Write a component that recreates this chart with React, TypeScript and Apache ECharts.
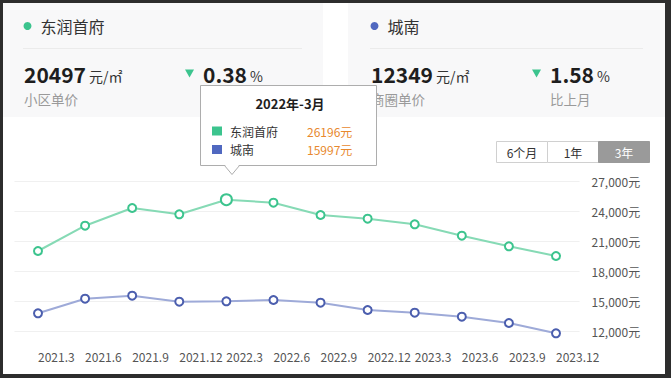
import React, { useEffect, useRef } from "react";
import * as echarts from "echarts";

const categories = ["2021.3", "2021.6", "2021.9", "2021.12", "2022.3", "2022.6", "2022.9", "2022.12", "2023.3", "2023.6", "2023.9", "2023.12"];
const seriesNames = ["东润首府", "城南"];
const greenValues = [20050, 22580, 24350, 23720, 25180, 24880, 23650, 23280, 22720, 21580, 20520, 19550];
const blueValues = [13820, 15280, 15580, 14980, 15020, 15150, 14880, 14150, 13880, 13480, 12850, 11820];
const highlightIndex = 4;
const tooltipTitle = "2022年-3月";
const tooltipValues = ["26196元", "15997元"];
const cardPrices = ["20497", "12349"];
const cardPriceLabels = ["小区单价", "商圈单价"];
const cardChanges = ["0.38", "1.58"];
const rangeButtons = ["6个月", "1年", "3年"];

const FONT = '"Noto Sans CJK SC", "Noto Sans", sans-serif';
const GREEN = "#3cc48e";
const GREEN_LINE = "#86dab5";
const BLUE = "#4b5eae";
const BLUE_LINE = "#9eaad8";
const BLUE_DOT = "#5068c0";

function txt(x: number, y: number, text: string, size: number, fill: string, extra: any = {}) {
  return {
    type: "text",
    x,
    y,
    z: 10,
    style: { text, fontSize: size, lineHeight: size, fill, fontFamily: FONT, verticalAlign: "middle", align: "left", ...extra },
  };
}

function card(x0: number, w: number, L: number, R: number, idx: number, dotColor: string): any[] {
  return [
    { type: "rect", x: x0, y: 3, z: 1, shape: { width: w, height: 114 }, style: { fill: "#f8f8f9" } },
    { type: "circle", z: 10, shape: { cx: L + 3.5, cy: 26, r: 4 }, style: { fill: dotColor } },
    txt(L + 16.5, 26, seriesNames[idx], 16, "#333"),
    { type: "line", z: 10, shape: { x1: L - 1, y1: 48.5, x2: R, y2: 48.5 }, style: { stroke: "#ebebeb", lineWidth: 1 } },
    txt(L, 73.5, cardPrices[idx], 21, "#1e1e1e", { fontWeight: "bold" }),
    txt(L + 65, 76, "元/㎡", 14, "#333"),
    txt(L, 99, cardPriceLabels[idx], 13.5, "#9a9a9a"),
    { type: "polygon", z: 10, shape: { points: [[L + 161, 69.5], [L + 170, 69.5], [L + 165.5, 77.5]] }, style: { fill: GREEN } },
    txt(L + 179, 73.5, cardChanges[idx], 21, "#1e1e1e", { fontWeight: "bold" }),
    txt(L + 226, 76, "%", 14, "#333"),
    txt(L + 179, 99, "比上月", 13.5, "#9a9a9a"),
  ];
}

export default function App() {
  const ref = useRef<HTMLDivElement>(null);
  useEffect(() => {
    document.body.style.margin = "0";
    document.body.style.overflow = "hidden";
    const chart = echarts.init(ref.current!, null, { renderer: "svg" });

    const bandW = (556 - 38) / 11;
    const gridLeft = 38 - bandW / 2;
    const gridRight = 671 - (556 + bandW / 2);

    const mk = (vals: number[], border: string, big: boolean) =>
      vals.map((v, i) =>
        i === highlightIndex && big
          ? { value: v, symbolSize: 11, itemStyle: { color: "#fff", borderColor: border, borderWidth: 2 } }
          : v
      );

    const tipX = 200.5;
    const tipY = 85.5;
    const tooltip: any[] = [
      { type: "rect", x: tipX, y: tipY, z: 50, shape: { width: 176, height: 80 }, style: { fill: "#fff", stroke: "#adadad", lineWidth: 1 } },
      { type: "polygon", z: 51, shape: { points: [[224.5, 164.5], [239.5, 164.5], [232, 173.5]] }, style: { fill: "#fff" } },
      { type: "polyline", z: 52, shape: { points: [[224.5, 165.5], [232, 174.5], [239.5, 165.5]] }, style: { stroke: "#adadad", lineWidth: 1, fill: null } },
      { ...txt(290, 103, tooltipTitle, 13, "#1e1e1e", { fontWeight: "bold", align: "center" }), z: 53 },
      { type: "rect", x: 212, y: 126.5, z: 53, shape: { width: 10, height: 9 }, style: { fill: GREEN } },
      { type: "rect", x: 212, y: 145, z: 53, shape: { width: 10, height: 9 }, style: { fill: BLUE_DOT } },
      { ...txt(230, 131, seriesNames[0], 12, "#333"), z: 53 },
      { ...txt(230, 149.5, seriesNames[1], 12, "#333"), z: 53 },
      { ...txt(307, 131, tooltipValues[0], 12, "#e8892e"), z: 53 },
      { ...txt(307, 149.5, tooltipValues[1], 12, "#e8892e"), z: 53 },
    ];

    const buttons: any[] = [];
    rangeButtons.forEach((b, i) => {
      const bx = 496.5 + i * 51;
      const active = i === rangeButtons.length - 1;
      buttons.push({
        type: "rect",
        x: bx,
        y: 141.5,
        z: 10,
        shape: { width: 51, height: 21 },
        style: { fill: active ? "#9a9a9a" : "#fff", stroke: active ? "#9a9a9a" : "#d0d0d0", lineWidth: 1 },
      });
      buttons.push(txt(bx + 25.5, 152, b, 12, active ? "#fff" : "#333", { align: "center" }));
    });

    chart.setOption({
      animation: false,
      backgroundColor: "#2d2d2d",
      grid: { left: gridLeft, right: gridRight, top: 181.5, bottom: 46.5 },
      xAxis: {
        type: "category",
        data: categories,
        boundaryGap: true,
        axisLine: { show: false },
        axisTick: { show: false },
        axisLabel: { interval: 0, align: "left", margin: 19, color: "#555", fontSize: 12, fontFamily: FONT },
      },
      yAxis: {
        type: "value",
        position: "right",
        min: 12000,
        max: 27000,
        interval: 3000,
        axisLine: { show: false },
        axisTick: { show: false },
        splitLine: { lineStyle: { color: "#f0f0f0" } },
        axisLabel: {
          margin: 12,
          color: "#555",
          fontSize: 12,
          fontFamily: FONT,
          formatter: (v: number) => v.toLocaleString("en-US") + "元",
        },
      },
      series: [
        {
          type: "line",
          name: seriesNames[0],
          data: mk(greenValues, GREEN, true),
          clip: false,
          symbol: "circle",
          symbolSize: 8,
          lineStyle: { color: GREEN_LINE, width: 2 },
          itemStyle: { color: "#fff", borderColor: GREEN, borderWidth: 2 },
          z: 5,
        },
        {
          type: "line",
          name: seriesNames[1],
          data: mk(blueValues, BLUE, false),
          clip: false,
          symbol: "circle",
          symbolSize: 8,
          lineStyle: { color: BLUE_LINE, width: 2 },
          itemStyle: { color: "#fff", borderColor: BLUE, borderWidth: 2 },
          z: 5,
        },
      ],
      graphic: [
        { type: "rect", x: 3, y: 3, z: -1, shape: { width: 662, height: 371 }, style: { fill: "#ffffff" } },
        ...card(3, 320, 24, 302, 0, GREEN),
        ...card(348, 317, 371, 643, 1, BLUE_DOT),
        ...buttons,
        ...tooltip,
      ],
    });
    return () => chart.dispose();
  }, []);
  return <div ref={ref} style={{ position: "fixed", left: 0, top: 0, width: 671, height: 378 }} />;
}
